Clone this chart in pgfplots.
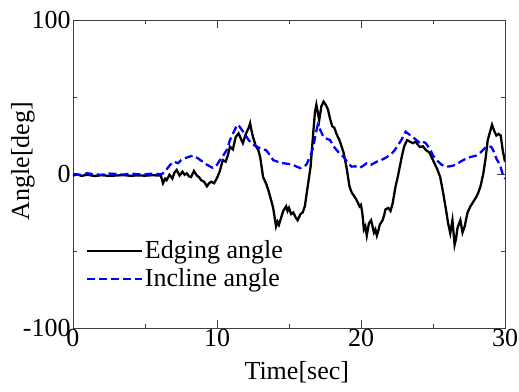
\documentclass[border=0pt]{standalone}
\usepackage{fontspec}
\setmainfont{Liberation Serif}
\usepackage{pgfplots}
\pgfplotsset{compat=1.18}
\begin{document}
\fontsize{26bp}{30bp}\selectfont
\begin{tikzpicture}
\begin{axis}[
  name=ax,
  scale only axis, width=432bp, height=308bp,
  xmin=0, xmax=30, ymin=-100, ymax=100,
  xtick={0,10,20,30}, minor xtick={5,15,25},
  ytick={-100,0,100}, minor ytick={-50,50},
  xticklabels={0,10,20,30}, yticklabels={{-100\hspace{3bp}},0,100},
  tick align=inside, major tick length=8bp, minor tick length=4bp,
  axis line style={black!75, line width=0.8pt},
  every tick/.style={black!75, line width=0.8pt},
  tick label style={font=\fontsize{26bp}{30bp}\selectfont},
  xticklabel style={inner sep=0.2pt, yshift=-0.8pt},
  yticklabel style={inner sep=0.2pt, xshift=-2pt},
  xlabel={Time[sec]}, ylabel={Angle[deg]},
  label style={font=\fontsize{26bp}{30bp}\selectfont},
  xlabel style={at={(axis description cs:0.518,0)}, anchor=base, yshift=-51bp},
  ylabel style={at={(axis description cs:-0.1157,0.542)}, anchor=center},
  legend style={at={(axis description cs:0.03,0.29)}, anchor=north west,
    draw=none, fill=none, font=\fontsize{26bp}{26bp}\selectfont, inner sep=0pt,
    row sep=3pt, nodes={inner sep=1.5pt}},
  legend cell align=left,
  legend image code/.code={\draw[#1] (0bp,0bp) -- (55bp,0bp);},
]
\addplot[black, line width=2.3pt] coordinates {
(0,-1)(0.3,-0.3)(0.6,-1.2)(1,-0.5)(1.5,-1.3)(2,-0.8)(2.5,-1.2)(3,-1)(3.5,-0.7)(4,-1.2)(4.5,-0.9)(5,-1.1)(5.5,-0.8)(6,-1)(6.1,-1)(6.25,-6)(6.4,-3)(6.5,-4)(6.7,-0.5)(6.9,-3)(7.05,1)(7.2,2.6)(7.4,-1)(7.6,1.5)(7.75,-0.5)(7.9,0.4)(8.05,-1.5)(8.2,-2)(8.4,2)(8.6,-1)(8.75,-2)(8.9,-4)(9.1,-5)(9.3,-8)(9.45,-6)(9.6,-5)(9.8,-6)(10.0,-2.6)(10.2,2)(10.4,9)(10.6,8)(10.75,12)(10.9,17.7)(11.1,16)(11.3,24)(11.5,26.4)(11.7,22)(11.8,20)(12.0,26)(12.2,30)(12.3,33)(12.4,28)(12.5,24)(12.7,18)(12.85,16)(13.0,11)(13.2,-2)(13.4,-6)(13.55,-10)(13.7,-15)(13.9,-22)(14.0,-28)(14.1,-34)(14.2,-31)(14.3,-33)(14.4,-30)(14.5,-27)(14.6,-24)(14.8,-21)(14.9,-24)(15.0,-22)(15.15,-26)(15.3,-25)(15.45,-28)(15.6,-30)(15.8,-26)(15.95,-25)(16.1,-21)(16.3,-8)(16.5,4.8)(16.7,28.6)(16.8,40)(16.9,45)(17.0,40)(17.1,35)(17.25,44)(17.4,47)(17.55,45)(17.7,42)(17.85,36)(18.0,31)(18.15,30)(18.3,26)(18.5,22)(18.65,18)(18.8,13.6)(19.0,4)(19.2,-8)(19.35,-12)(19.5,-14)(19.7,-17)(19.9,-21)(20.0,-20)(20.1,-26)(20.2,-36)(20.3,-34)(20.4,-40)(20.55,-32)(20.7,-30)(20.8,-34)(20.9,-38)(21.0,-36)(21.1,-40)(21.2,-37)(21.3,-33)(21.5,-30)(21.6,-27)(21.7,-23)(21.9,-22)(22.05,-24)(22.2,-19)(22.4,-8)(22.55,-2)(22.7,5)(22.85,12)(23.0,18)(23.2,22)(23.4,21)(23.6,20)(23.8,21)(23.95,19)(24.1,17.5)(24.3,18)(24.5,15.6)(24.75,14)(25.0,9)(25.3,3)(25.5,-2)(25.7,-12)(25.9,-23)(26.05,-32)(26.2,-38.5)(26.35,-30)(26.5,-46)(26.6,-42)(26.7,-35)(26.9,-30)(27.05,-38)(27.2,-34)(27.4,-25)(27.6,-21)(27.8,-18)(28.0,-15)(28.15,-12)(28.3,-8)(28.5,0.6)(28.65,10)(28.8,22)(28.95,27)(29.1,32)(29.25,28)(29.4,25)(29.55,26)(29.7,25)(29.85,15)(30,8)
};
\addlegendentry{Edging angle}
\addplot[blue, line width=2.3pt, dash pattern=on 8bp off 4bp] coordinates {
(0,0)(0.5,-0.5)(1,0.5)(1.5,-0.3)(2,-0.5)(2.5,0.3)(3,0)(3.5,-0.4)(4,0.3)(4.5,-0.2)(5,-0.2)(5.5,0.2)(6,0)(6.2,0)(6.5,3)(6.75,6)(7.0,8)(7.3,7)(7.5,9)(7.7,10)(8.0,11)(8.35,12)(8.7,10)(9.0,8)(9.3,6)(9.7,4)(10.0,6)(10.2,9)(10.4,11.5)(10.7,16)(10.9,22)(11.2,28)(11.4,32)(11.55,31)(11.7,29)(11.85,27)(12.0,25)(12.2,22)(12.5,19)(12.8,17.7)(13.1,16)(13.4,15.6)(13.7,12)(13.9,9)(14.2,8)(14.6,7)(15.0,6.5)(15.3,5.8)(15.6,4.5)(15.8,3.9)(16.0,4.5)(16.2,6)(16.35,9)(16.5,12)(16.7,18)(16.85,26)(17.0,32)(17.2,28)(17.4,24)(17.6,23)(17.85,22)(18.1,18)(18.3,15.6)(18.55,13)(18.8,11)(19.1,7)(19.35,4.8)(19.6,5)(19.9,3.9)(20.1,5)(20.4,7)(20.7,6)(21.1,8)(21.4,9)(21.8,11)(22.1,13)(22.3,15)(22.5,17.7)(22.8,22)(23.1,27.5)(23.3,26)(23.6,24)(23.85,22)(24.1,20)(24.3,21)(24.5,20)(24.8,16)(25.0,12)(25.25,9)(25.6,6)(25.9,4.8)(26.2,5)(26.6,6)(26.9,8)(27.3,10)(27.6,11)(28.0,12)(28.3,14)(28.7,17.7)(29.05,17.7)(29.25,14)(29.4,10)(29.65,6)(29.9,-2)(30,-3)
};
\addlegendentry{Incline angle}
\end{axis}
\path ([xshift=-73bp,yshift=-64bp]ax.south west) rectangle ([xshift=14bp,yshift=20bp]ax.north east);
\end{tikzpicture}
\end{document}
